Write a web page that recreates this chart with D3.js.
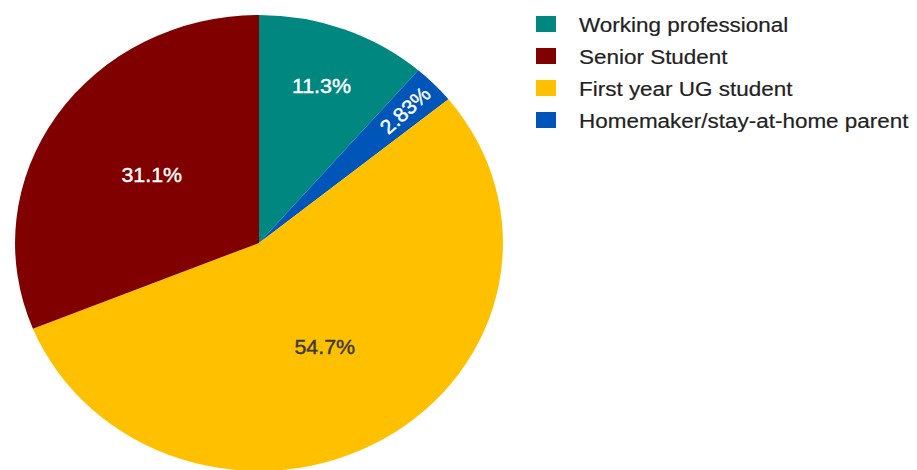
<!DOCTYPE html>
<html>
<head>
<meta charset="utf-8">
<script src="https://cdn.jsdelivr.net/npm/d3@7"></script>
<style>
  html, body { margin: 0; padding: 0; background: #fff; }
  svg { display: block; font-family: Arial, "Liberation Sans", sans-serif; }
</style>
</head>
<body>
<svg id="chart" width="917" height="470"></svg>
<script>
// slices in drawing order (clockwise from 12 o'clock)
const categories = ['Working professional', 'Homemaker/stay-at-home parent', 'First year UG student', 'Senior Student'];
const counts = [12, 3, 58, 33];
const sliceColors = ['#008780', '#0055b8', '#ffc000', '#800000'];
// legend lists the categories in this order
const legendOrder = ['Working professional', 'Senior Student', 'First year UG student', 'Homemaker/stay-at-home parent'];

const svg = d3.select('#chart');

// the source image is a little wider than tall
const stretch = 1.07;
const cx = 259, cy = 243, R = 228;

const data = categories.map((c, i) => ({ name: c, value: counts[i], color: sliceColors[i] }));
const total = d3.sum(counts);
const fmt = d3.format('.3r');

const pie = d3.pie().sort(null).value(d => d.value);
const arc = d3.arc().innerRadius(0).outerRadius(R);
const arcs = pie(data);

const g = svg.append('g')
    .attr('transform', `translate(${cx},${cy}) scale(${stretch},1)`);

g.selectAll('path.slice')
    .data(arcs)
    .enter()
    .append('path')
    .attr('class', 'slice')
    .attr('d', arc)
    .attr('fill', d => d.data.color);

// label radius depends on how wide the slice is
function labelRadius(d) {
    const span = d.endAngle - d.startAngle;
    if (span > Math.PI / 2) return R * 0.53;
    if (span > 0.5) return R * 0.735;
    return R * 0.835;
}

arcs.forEach(d => {
    const mid = (d.startAngle + d.endAngle) / 2;
    const r = labelRadius(d);
    const x = Math.sin(mid) * r;
    const y = -Math.cos(mid) * r;
    const span = d.endAngle - d.startAngle;
    const pct = fmt(d.data.value / total * 100) + '%';
    const col = d.data.color === '#ffc000' ? '#3a3a3a' : '#fff';
    const t = g.append('text')
        .attr('text-anchor', 'middle')
        .attr('dy', '0.35em')
        .style('font-size', '20px')
        .attr('fill', col)
        .attr('stroke', col)
        .attr('stroke-width', 0.4)
        .text(pct);
    if (span < 0.5) {
        // thin slice: text runs along the radius
        const rot = mid * 180 / Math.PI - 90;
        t.attr('transform', `translate(${x},${y}) rotate(${rot})`);
    } else {
        t.attr('x', x).attr('y', y);
    }
});

// legend
const legend = svg.append('g').attr('class', 'legend');
const colorOf = name => data.find(d => d.name === name).color;

legendOrder.forEach((name, i) => {
    const yc = 24 + i * 32;
    legend.append('rect')
        .attr('x', 536)
        .attr('y', yc - 8)
        .attr('width', 20)
        .attr('height', 16)
        .attr('fill', colorOf(name));
    legend.append('text')
        .attr('transform', `translate(579,${yc + 7.5}) scale(${stretch},1)`)
        .style('font-size', '21px')
        .attr('fill', '#222')
        .attr('stroke', '#222')
        .attr('stroke-width', 0.2)
        .text(name);
});
</script>
</body>
</html>
